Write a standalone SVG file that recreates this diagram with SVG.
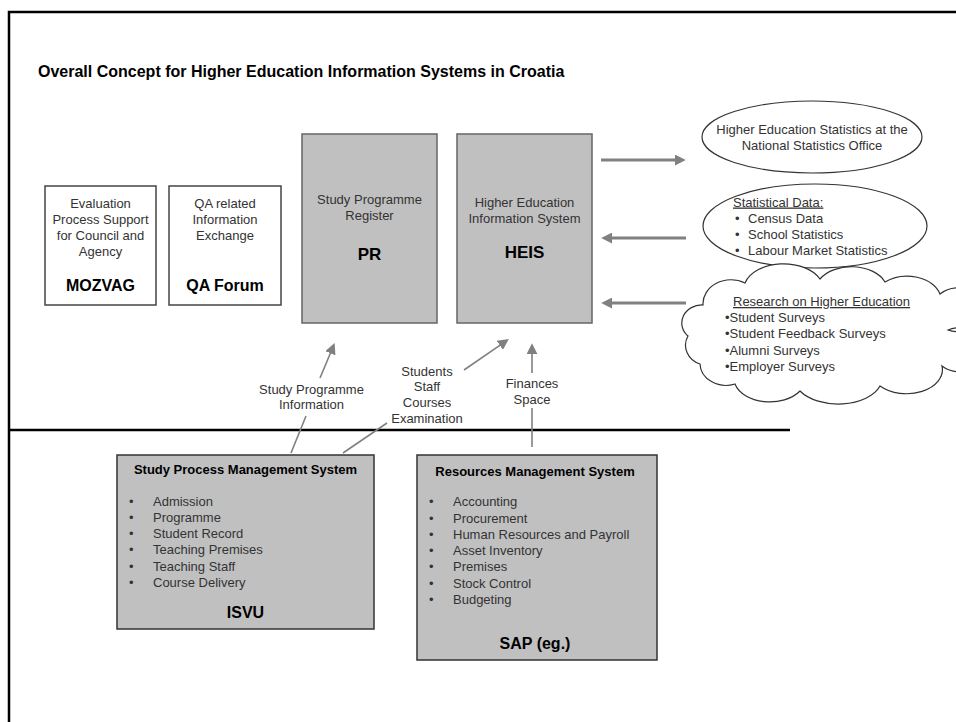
<svg xmlns="http://www.w3.org/2000/svg" width="956" height="722" viewBox="0 0 956 722">
<style>
text{font-family:"Liberation Sans",Arial,sans-serif;}
.t{font-size:13px;fill:#333;}
.c{text-anchor:middle;}
.b{font-weight:bold;fill:#000;}
.wbox{fill:#fff;stroke:#444;stroke-width:1.5;}
.gbox{fill:#c0c0c0;stroke:#666;stroke-width:1.5;}
.dbox{fill:#c0c0c0;stroke:#333;stroke-width:1.5;}
.fat{stroke:#808080;stroke-width:3;fill:none;}
.thin{stroke:#808080;stroke-width:1.6;fill:none;}
.shape{fill:#fff;stroke:#333;stroke-width:1.2;}
</style>
<defs>
<marker id="ah" viewBox="0 0 10 10" refX="2" refY="5" markerWidth="11" markerHeight="11" markerUnits="userSpaceOnUse" orient="auto"><path d="M0,0 L10,5 L0,10 z" fill="#808080"/></marker>
</defs>
<rect width="956" height="722" fill="#fff"/>
<path d="M9 722 V12 H960" fill="none" stroke="#000" stroke-width="2.5"/>
<line x1="8" y1="430" x2="790" y2="430" stroke="#000" stroke-width="2.5"/>
<text x="38" y="77" class="b" font-size="16">Overall Concept for Higher Education Information Systems in Croatia</text>

<g id="mozvag">
<rect x="45" y="186" width="111" height="119" class="wbox"/>
<text class="t c" x="100.5" y="208">Evaluation</text>
<text class="t c" x="100.5" y="224">Process Support</text>
<text class="t c" x="100.5" y="239.5">for Council and</text>
<text class="t c" x="100.5" y="255.5">Agency</text>
<text class="c b" x="100.5" y="291" font-size="16">MOZVAG</text>
</g>
<g id="qaforum">
<rect x="169" y="186" width="112" height="119" class="wbox"/>
<text class="t c" x="225" y="208">QA related</text>
<text class="t c" x="225" y="224">Information</text>
<text class="t c" x="225" y="239.5">Exchange</text>
<text class="c b" x="225" y="291" font-size="16">QA Forum</text>
</g>
<g id="pr">
<rect x="302" y="134" width="135" height="189" class="gbox"/>
<text class="t c" x="369.5" y="204">Study Programme</text>
<text class="t c" x="369.5" y="219.5">Register</text>
<text class="c b" x="369.5" y="259.5" font-size="17">PR</text>
</g>
<g id="heis">
<rect x="457" y="134" width="135" height="189" class="gbox"/>
<text class="t c" x="524.5" y="206.5">Higher Education</text>
<text class="t c" x="524.5" y="222.5">Information System</text>
<text class="c b" x="524.5" y="257.5" font-size="17">HEIS</text>
</g>
<g id="nso">
<ellipse cx="812" cy="137" rx="110" ry="36" class="shape"/>
<text class="t c" x="812" y="133.5">Higher Education Statistics at the</text>
<text class="t c" x="812" y="149.5">National Statistics Office</text>
</g>
<g id="statdata">
<ellipse cx="815" cy="226" rx="112" ry="42" class="shape"/>
<text class="t" x="733" y="206.5" text-decoration="underline">Statistical Data:</text>
<text class="t" x="735" y="222.5">•</text><text class="t" x="748" y="222.5">Census Data</text>
<text class="t" x="735" y="238.5">•</text><text class="t" x="748" y="238.5">School Statistics</text>
<text class="t" x="735" y="254.5">•</text><text class="t" x="748" y="254.5">Labour Market Statistics</text>
</g>
<g id="research">
<path class="shape" d="M703 305 A28 24 0 0 1 745 283 A40 26 0 0 1 820 279 A36 24 0 0 1 885 282 A34 24 0 0 1 940 294 A26 22 0 1 1 948 330 A26 22 0 1 1 942 366 A36 24 0 0 1 880 386 A44 26 0 0 1 800 391 A36 24 0 0 1 735 384 A26 22 0 0 1 700 364 A22 20 0 0 1 688 336 A20 18 0 0 1 703 305 Z"/>
<text class="t" x="733" y="306" text-decoration="underline">Research on Higher Education</text>
<text class="t" x="725" y="322">•Student Surveys</text>
<text class="t" x="725" y="338">•Student Feedback Surveys</text>
<text class="t" x="725" y="354.5">•Alumni Surveys</text>
<text class="t" x="725" y="370.5">•Employer Surveys</text>
</g>
<g id="isvu">
<rect x="117" y="455" width="257" height="174" class="dbox"/>
<text class="c b" x="245.5" y="473.5" font-size="13">Study Process Management System</text>
<text class="t" x="129" y="506">•</text><text class="t" x="153" y="506">Admission</text>
<text class="t" x="129" y="522">•</text><text class="t" x="153" y="522">Programme</text>
<text class="t" x="129" y="538">•</text><text class="t" x="153" y="538">Student Record</text>
<text class="t" x="129" y="554">•</text><text class="t" x="153" y="554">Teaching Premises</text>
<text class="t" x="129" y="570.5">•</text><text class="t" x="153" y="570.5">Teaching Staff</text>
<text class="t" x="129" y="586.5">•</text><text class="t" x="153" y="586.5">Course Delivery</text>
<text class="c b" x="245.5" y="618" font-size="16">ISVU</text>
</g>
<g id="sap">
<rect x="417" y="455" width="240" height="205" class="dbox"/>
<text class="c b" x="535" y="476" font-size="13">Resources Management System</text>
<text class="t" x="429" y="506">•</text><text class="t" x="453" y="506">Accounting</text>
<text class="t" x="429" y="522.5">•</text><text class="t" x="453" y="522.5">Procurement</text>
<text class="t" x="429" y="538.5">•</text><text class="t" x="453" y="538.5">Human Resources and Payroll</text>
<text class="t" x="429" y="555">•</text><text class="t" x="453" y="555">Asset Inventory</text>
<text class="t" x="429" y="571">•</text><text class="t" x="453" y="571">Premises</text>
<text class="t" x="429" y="587.5">•</text><text class="t" x="453" y="587.5">Stock Control</text>
<text class="t" x="429" y="603.5">•</text><text class="t" x="453" y="603.5">Budgeting</text>
<text class="c b" x="535" y="648.5" font-size="16">SAP (eg.)</text>
</g>
<g id="connectors">
<line class="fat" x1="601" y1="160" x2="677" y2="160" marker-end="url(#ah)"/>
<line class="fat" x1="686" y1="238" x2="610" y2="238" marker-end="url(#ah)"/>
<line class="fat" x1="686" y1="303" x2="610" y2="303" marker-end="url(#ah)"/>
<line class="thin" x1="291" y1="453" x2="306" y2="416"/>
<line class="thin" x1="320" y1="378" x2="331.2" y2="351.2" marker-end="url(#ah)"/>
<text class="t c" x="311.5" y="393.5">Study Programme</text>
<text class="t c" x="311.5" y="409">Information</text>
<line class="thin" x1="343" y1="453" x2="387" y2="423"/>
<line class="thin" x1="464" y1="370" x2="501.6" y2="344.1" marker-end="url(#ah)"/>
<text class="t c" x="427" y="375.5">Students</text>
<text class="t c" x="427" y="391">Staff</text>
<text class="t c" x="427" y="407">Courses</text>
<text class="t c" x="427" y="423">Examination</text>
<line class="thin" x1="532" y1="447" x2="532" y2="408"/>
<line class="thin" x1="532" y1="373" x2="532" y2="352" marker-end="url(#ah)"/>
<text class="t c" x="532" y="387.5">Finances</text>
<text class="t c" x="532" y="403.5">Space</text>
</g>
</svg>
